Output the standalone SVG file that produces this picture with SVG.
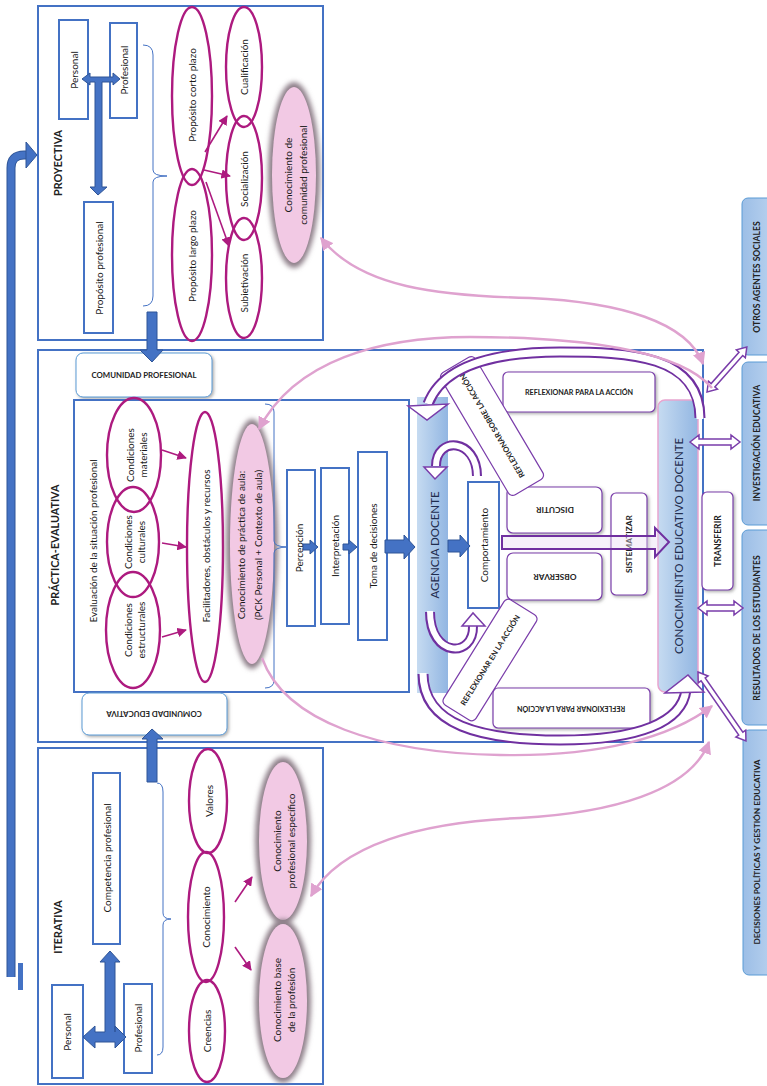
<svg xmlns="http://www.w3.org/2000/svg" width="767" height="1086" viewBox="0 0 767 1086">
<defs>
<style>
.bx{fill:#fff;stroke:#4472C4;stroke-width:2}
.bt{fill:#fff;stroke:#4472C4;stroke-width:2}
.mg{fill:none;stroke:#AD1A7F;stroke-width:2.4}
.ma{fill:none;stroke:#AD1A7F;stroke-width:1.6}
.pk{fill:none;stroke:#DFA2CF;stroke-width:2.4}
.pb{fill:#fff;stroke:#7A3DAA;stroke-width:1.2}
.ba{fill:#4472C4;stroke:#2F5597;stroke-width:1}
.ha{fill:#fff;stroke:#7A3DAA;stroke-width:1.5}
.t{font-family:Lato,"Liberation Sans",sans-serif;font-size:10px;fill:#1a1a1a;text-anchor:middle;dominant-baseline:central}
.cap{font-family:Lato,"Liberation Sans",sans-serif;font-weight:700;fill:#222;text-anchor:middle;dominant-baseline:central}
.big{font-family:Lato,"Liberation Sans",sans-serif;font-size:11.5px;fill:#1F2D4F;text-anchor:middle;dominant-baseline:central}
</style>
<linearGradient id="gb" x1="0" y1="0" x2="1" y2="0"><stop offset="0" stop-color="#C6DBF1"/><stop offset="1" stop-color="#92B6E2"/></linearGradient>
<linearGradient id="gr" x1="0" y1="0" x2="1" y2="0"><stop offset="0" stop-color="#9CBEE6"/><stop offset="1" stop-color="#B9D2EF"/></linearGradient>
<filter id="sh" x="-20%" y="-20%" width="140%" height="140%"><feDropShadow dx="1.5" dy="1.5" stdDeviation="1.5" flood-color="#777" flood-opacity="0.6"/></filter>
<filter id="bl" x="-30%" y="-30%" width="160%" height="160%"><feGaussianBlur stdDeviation="2.5"/></filter>
<marker id="am" viewBox="0 0 10 10" refX="9" refY="5" markerWidth="6" markerHeight="6" orient="auto"><path d="M0,0 L10,5 L0,10 z" fill="#AD1A7F"/></marker>
<marker id="ap" viewBox="0 0 10 10" refX="9" refY="5" markerWidth="13" markerHeight="13" markerUnits="userSpaceOnUse" orient="auto-start-reverse"><path d="M0,0 L10,5 L0,10 z" fill="#DFA2CF"/></marker>
</defs>
<rect width="767" height="1086" fill="#fff"/>

<!-- PROYECTIVA -->
<g id="proyectiva">
<rect x="38" y="6" width="285" height="334" class="bx"/>
<text class="cap" font-size="10.8" transform="translate(57,163) rotate(-90)">PROYECTIVA</text>
<g id="p-personal"><rect x="59" y="20" width="29" height="99" class="bt"/><text class="t" transform="translate(74,70) rotate(-90)">Personal</text></g>
<g id="p-profesional"><rect x="110" y="23" width="27" height="95" class="bt"/><text class="t" transform="translate(124,70) rotate(-90)">Profesional</text></g>
<g id="p-proposito"><rect x="84" y="202" width="29" height="131" class="bt"/><text class="t" transform="translate(99,268) rotate(-90)">Propósito profesional</text></g>
<path d="M143 45 Q153 45 153 55 L153 170 Q153 176 167 176 Q153 176 153 182 L153 296 Q153 306 143 306" fill="none" stroke="#4472C4" stroke-width="1"/>
<g id="p-corto"><ellipse cx="192" cy="96" rx="20" ry="89" class="mg"/><text class="t" transform="translate(192,95) rotate(-90)">Propósito corto plazo</text></g>
<g id="p-largo"><ellipse cx="192" cy="255" rx="20" ry="86" class="mg"/><text class="t" transform="translate(192,256) rotate(-90)">Propósito largo plazo</text></g>
<g id="p-cualif"><ellipse cx="244" cy="67" rx="18" ry="60" class="mg"/><text class="t" transform="translate(244,67) rotate(-90)">Cualificación</text></g>
<g id="p-social"><ellipse cx="244" cy="178" rx="18" ry="62" class="mg"/><text class="t" transform="translate(244,179) rotate(-90)">Socialización</text></g>
<g id="p-subjet"><ellipse cx="244" cy="278" rx="18" ry="60" class="mg"/><text class="t" transform="translate(244,283) rotate(-90)">Subietivación</text></g>
<g id="p-comunidad"><ellipse cx="294" cy="175" rx="26" ry="93" fill="#8E7F89" filter="url(#bl)"/><ellipse cx="294" cy="175" rx="22" ry="88" fill="#F2C9E4"/>
<text class="t" transform="translate(295,175) rotate(-90)"><tspan x="0" y="-7.5">Conocimiento de</tspan><tspan x="0" y="7.5">comunidad profesional</tspan></text></g>
</g>

<!-- PRACTICA -->
<g id="practica">
<rect x="38" y="350" width="665" height="392" class="bx"/>
<text class="cap" font-size="10.8" transform="translate(54,545) rotate(-90)">PRÁCTICA-EVALUATIVA</text>
<g id="comunidad-prof"><rect x="76" y="353" width="136" height="44" rx="7" fill="#fff" stroke="#5B9BD5" stroke-width="1" filter="url(#sh)"/><text class="cap" font-size="7.8" x="144" y="375">COMUNIDAD PROFESIONAL</text></g>
<rect x="74" y="400" width="335" height="292" class="bx"/>
<text class="t" transform="translate(93,541) rotate(-90)">Evaluación de la situación profesional</text>
<g id="c-mat"><ellipse cx="134" cy="455" rx="27" ry="57" class="mg"/><text class="t" font-size="8.3" transform="translate(136,455) rotate(-90)"><tspan x="0" y="-6.5">Condiciones</tspan><tspan x="0" y="6.5">materiales</tspan></text></g>
<g id="c-cul"><ellipse cx="133" cy="542" rx="26" ry="55" class="mg"/><text class="t" font-size="8.3" transform="translate(134,542) rotate(-90)"><tspan x="0" y="-6.5">Condiciones</tspan><tspan x="0" y="6.5">culturales</tspan></text></g>
<g id="c-est"><ellipse cx="133" cy="630" rx="27" ry="58" class="mg"/><text class="t" font-size="8.3" transform="translate(134,630) rotate(-90)"><tspan x="0" y="-6.5">Condiciones</tspan><tspan x="0" y="6.5">estructurales</tspan></text></g>
<g id="facilitadores"><ellipse cx="205" cy="547" rx="18" ry="135" class="mg"/><text class="t" transform="translate(206,546) rotate(-90)">Facilitadores, obstáculos y recursos</text></g>
<g id="pck"><ellipse cx="252" cy="544" rx="26" ry="125" fill="#8E7F89" filter="url(#bl)"/><ellipse cx="252" cy="544" rx="22" ry="120" fill="#F2C9E4"/>
<text class="t" transform="translate(249,545) rotate(-90)"><tspan x="0" y="-8.5">Conocimiento de práctica de aula:</tspan><tspan x="0" y="8.5">(PCK Personal + Contexto de aula)</tspan></text></g>
<path d="M265 404 Q274 404 274 412 L274 541 Q274 547 288 547 Q274 547 274 553 L274 680 Q274 688 265 688" fill="none" stroke="#4472C4" stroke-width="1"/>
<g id="percepcion"><rect x="287" y="470" width="28" height="156" class="bt"/><text class="t" font-size="10.3" transform="translate(299,548) rotate(-90)">Percepción</text></g>
<g id="interpretacion"><rect x="321" y="468" width="28" height="156" class="bt"/><text class="t" font-size="10.3" transform="translate(335,546) rotate(-90)">Interpretación</text></g>
<g id="toma"><rect x="358" y="452" width="29" height="188" class="bt"/><text class="t" font-size="10.3" transform="translate(373,546) rotate(-90)">Toma de decisiones</text></g>
<g id="agencia"><rect x="417" y="397" width="31" height="296" fill="url(#gb)"/><text class="big" transform="translate(434,545) rotate(-90)">AGENCIA DOCENTE</text></g>
<g id="comportamiento"><rect x="468" y="482" width="31" height="126" class="bt"/><text class="t" font-size="10.3" transform="translate(484,545) rotate(-90)">Comportamiento</text></g>
<g id="rpa-top"><rect x="503" y="372" width="152" height="40" rx="5" class="pb" filter="url(#sh)"/><text class="cap" font-size="7.2" x="579" y="392">REFLEXIONAR PARA LA ACCIÓN</text></g>
<g id="rpa-bottom"><rect x="493" y="688" width="157" height="40" rx="5" class="pb" filter="url(#sh)"/><text class="cap" font-size="7.2" transform="translate(571,708) rotate(180)">REFLEXIONAR PARA LA ACCIÓN</text></g>
<g id="discutir"><rect x="507" y="487" width="95" height="46" rx="6" class="pb" filter="url(#sh)"/><text class="cap" font-size="8.3" transform="translate(555,510) rotate(180)">DISCUTIR</text></g>
<g id="observar"><rect x="507" y="553" width="95" height="47" rx="6" class="pb" filter="url(#sh)"/><text class="cap" font-size="8.3" transform="translate(555,577) rotate(180)">OBSERVAR</text></g>
<g id="rsa" transform="translate(492,426) rotate(59.4)"><rect x="-71" y="-20" width="142" height="40" rx="5" class="pb"/><text class="cap" font-size="7.6" transform="rotate(180)">REFLEXIONAR SOBRE LA ACCIÓN</text></g>
<g id="rea" transform="translate(490,660) rotate(-58.1)"><rect x="-62" y="-19" width="124" height="38" rx="5" class="pb"/><text class="cap" font-size="7.6">REFLEXIONAR EN LA ACCIÓN</text></g>
<g id="sistematizar"><rect x="611" y="493" width="36" height="102" rx="5" class="pb" filter="url(#sh)"/><text class="cap" font-size="8.3" transform="translate(629,544) rotate(-90)">SISTEMATIZAR</text></g>
<g id="ced"><rect x="658" y="400" width="40" height="292" rx="7" fill="url(#gb)" stroke="#E8A5CF" stroke-width="1.5"/><text class="big" transform="translate(678,546) rotate(-90)">CONOCIMIENTO EDUCATIVO DOCENTE</text></g>
<g id="transferir"><rect x="702" y="492" width="31" height="98" rx="5" class="pb" filter="url(#sh)"/><text class="cap" font-size="8.6" transform="translate(718,541) rotate(-90)">TRANSFERIR</text></g>
<g id="comunidad-edu"><rect x="82" y="693" width="145" height="42" rx="7" fill="#fff" stroke="#5B9BD5" stroke-width="1" filter="url(#sh)"/><text class="cap" font-size="7.8" transform="translate(154,714) rotate(180)">COMUNIDAD EDUCATIVA</text></g>
</g>

<!-- ITERATIVA -->
<g id="iterativa">
<rect x="38" y="748" width="285" height="336" class="bx"/>
<text class="cap" font-size="10.8" transform="translate(57,927) rotate(-90)">ITERATIVA</text>
<g id="i-competencia"><rect x="93" y="773" width="27" height="171" class="bt"/><text class="t" font-size="10.5" transform="translate(107,858) rotate(-90)">Competencia profesional</text></g>
<g id="i-personal"><rect x="52" y="985" width="31" height="93" class="bt"/><text class="t" transform="translate(67,1032) rotate(-90)">Personal</text></g>
<g id="i-profesional"><rect x="124" y="984" width="28" height="89" class="bt"/><text class="t" transform="translate(138,1028) rotate(-90)">Profesional</text></g>
<path d="M157 783 Q163 783 163 792 L163 913 Q163 919 171 919 Q163 919 163 925 L163 1047 Q163 1055 157 1055" fill="none" stroke="#4472C4" stroke-width="1"/>
<g id="i-valores"><ellipse cx="208" cy="801" rx="19" ry="52" class="mg"/><text class="t" transform="translate(209,801) rotate(-90)">Valores</text></g>
<g id="i-conoc"><ellipse cx="206" cy="917" rx="18" ry="65" class="mg"/><text class="t" transform="translate(206,917) rotate(-90)">Conocimiento</text></g>
<g id="i-creencias"><ellipse cx="207" cy="1031" rx="18" ry="51" class="mg"/><text class="t" transform="translate(207,1031) rotate(-90)">Creencias</text></g>
<g id="i-especifico"><ellipse cx="283" cy="841" rx="28" ry="84" fill="#8E7F89" filter="url(#bl)"/><ellipse cx="283" cy="841" rx="24" ry="79" fill="#F2C9E4"/>
<text class="t" transform="translate(284,841) rotate(-90)"><tspan x="0" y="-7">Conocimiento</tspan><tspan x="0" y="7">profesional específico</tspan></text></g>
<g id="i-base"><ellipse cx="283" cy="1001" rx="28" ry="82" fill="#8E7F89" filter="url(#bl)"/><ellipse cx="283" cy="1001" rx="24" ry="77" fill="#F2C9E4"/>
<text class="t" transform="translate(284,1000) rotate(-90)"><tspan x="0" y="-7">Conocimiento base</tspan><tspan x="0" y="7">de la profesión</tspan></text></g>
</g>

<!-- RIGHT COLUMN -->
<g id="otros"><rect x="742" y="198" width="32" height="157" rx="6" fill="url(#gr)" stroke="#5B9BD5" stroke-width="1"/><text class="cap" font-size="8.6" transform="translate(757,277) rotate(-90)">OTROS AGENTES SOCIALES</text></g>
<g id="investigacion"><rect x="742" y="362" width="32" height="163" rx="6" fill="url(#gr)" stroke="#5B9BD5" stroke-width="1"/><text class="cap" font-size="8.6" transform="translate(757,443) rotate(-90)">INVESTIGACIÓN EDUCATIVA</text></g>
<g id="resultados"><rect x="742" y="530" width="32" height="195" rx="6" fill="url(#gr)" stroke="#5B9BD5" stroke-width="1"/><text class="cap" font-size="8.6" transform="translate(757,628) rotate(-90)">RESULTADOS DE LOS ESTUDIANTES</text></g>
<g id="decisiones"><rect x="743" y="730" width="32" height="245" rx="6" fill="url(#gr)" stroke="#5B9BD5" stroke-width="1"/><text class="cap" font-size="8.3" transform="translate(757,852) rotate(-90)">DECISIONES POLÍTICAS Y GESTIÓN EDUCATIVA</text></g>

<!-- CONNECTORS -->
<g id="connectors">
<path d="M11 977 L11 168 Q11 155 24 155 L27 155" fill="none" stroke="#2F5597" stroke-width="9"/>
<path d="M11 977 L11 168 Q11 155 24 155 L27 155" fill="none" stroke="#4472C4" stroke-width="7"/>
<polygon points="26,142 37,155 26,168" class="ba"/>
<rect x="18" y="963" width="5" height="27" fill="#4472C4"/>
<polygon points="82,79 90,73 90,77 113,77 113,73 120,79 113,85 113,82 102,82 102,187 107,187 98,195 90,187 95,187 95,82 90,82 90,85" class="ba"/>
<polygon points="147,312 157,312 157,350 163,350 152,362 140,350 147,350" class="ba"/>
<polygon points="147,782 157,782 157,739 163,739 152,729 142,739 147,739" class="ba"/>
<polygon points="83,1037 95,1026 95,1032 105,1032 105,962 100,962 110,951 120,962 115,962 115,1032 115,1026 126,1037 115,1048 115,1042 95,1042 95,1048" class="ba"/>
<polygon points="303,544 310,544 310,540 318,547 310,554 310,550 303,550" class="ba"/>
<polygon points="343,544 349,544 349,540 357,547 349,554 349,550 343,550" class="ba"/>
<polygon points="385,540 404,540 404,535 415,547 404,559 404,553 385,553" class="ba"/>
<polygon points="448,540 460,540 460,535 470,546 460,557 460,552 448,552" class="ba"/>
<line x1="205" y1="152" x2="227" y2="116" class="ma" marker-end="url(#am)"/>
<line x1="204" y1="170" x2="230" y2="176" class="ma" marker-end="url(#am)"/>
<line x1="206" y1="182" x2="229" y2="246" class="ma" marker-end="url(#am)"/>
<line x1="162" y1="450" x2="186" y2="458" class="ma" marker-end="url(#am)"/>
<line x1="162" y1="543" x2="186" y2="547" class="ma" marker-end="url(#am)"/>
<line x1="162" y1="637" x2="186" y2="630" class="ma" marker-end="url(#am)"/>
<line x1="235" y1="902" x2="252" y2="877" class="ma" marker-end="url(#am)"/>
<line x1="235" y1="947" x2="251" y2="970" class="ma" marker-end="url(#am)"/>
<path d="M700 418 C700 355 630 352 560 352 C480 352 440 372 428 404" fill="none" stroke="#7030A0" stroke-width="11"/>
<path d="M700 419 C700 355 630 352 560 352 C480 352 440 372 428 404" fill="none" stroke="#fff" stroke-width="7"/>
<polygon points="408,406 448,404 427,420" class="ha" stroke="#7030A0" stroke-width="2"/>
<path d="M423 674 C423 725 480 740 560 740 C640 740 682 722 686 690" fill="none" stroke="#7030A0" stroke-width="11"/>
<path d="M423 673 C423 725 480 740 560 740 C640 740 682 722 686 690" fill="none" stroke="#fff" stroke-width="7"/>
<polygon points="665,693 704,692 688,675" class="ha" stroke="#7030A0" stroke-width="2"/>
<path d="M477 476 C477 438 436 436 436 466" fill="none" stroke="#7030A0" stroke-width="10"/>
<path d="M477 477 C477 438 436 436 436 466" fill="none" stroke="#fff" stroke-width="6"/>
<polygon points="424,467 447,467 435,479" class="ha" stroke="#7030A0" stroke-width="2"/>
<path d="M430 612 C430 658 474 658 473 626" fill="none" stroke="#7030A0" stroke-width="10"/>
<path d="M430 611 C430 658 474 658 473 626" fill="none" stroke="#fff" stroke-width="6"/>
<polygon points="462,626 485,626 473,613" class="ha" stroke="#7030A0" stroke-width="2"/>
<polygon points="502,536 655,536 655,528 669,542 655,557 655,549 502,549" fill="#E8DDF2" fill-opacity="0.4" stroke="#7030A0" stroke-width="2"/>
<g transform="translate(707,392) rotate(-48.4)"><polygon points="0,0 9,-6 9,-2.5 51,-2.5 51,-6 60,0 51,6 51,2.5 9,2.5 9,6" class="ha"/></g>
<g transform="translate(690,442)"><polygon points="0,0 9,-7 9,-3 41,-3 41,-7 50,0 41,7 41,3 9,3 9,7" class="ha"/></g>
<g transform="translate(698,608)"><polygon points="0,0 9,-7 9,-3 36,-3 36,-7 45,0 36,7 36,3 9,3 9,7" class="ha"/></g>
<g transform="translate(698,672) rotate(55.2)"><polygon points="0,0 9,-6 9,-2.5 75,-2.5 75,-6 84,0 75,6 75,2.5 9,2.5 9,6" class="ha"/></g>
<path d="M321 238 C360 288 440 296 530 298 C620 302 688 322 703 364" class="pk" marker-start="url(#ap)" marker-end="url(#ap)"/>
<path d="M259 429 C295 360 380 337 470 337 C580 337 680 350 712 388" class="pk" marker-start="url(#ap)"/>
<path d="M262 658 C285 722 380 753 500 755 C600 757 672 737 712 706" class="pk" marker-end="url(#ap)"/>
<path d="M311 896 C340 845 420 822 520 818 C610 813 690 792 709 742" class="pk" marker-start="url(#ap)" marker-end="url(#ap)"/>
</g>
</svg>
